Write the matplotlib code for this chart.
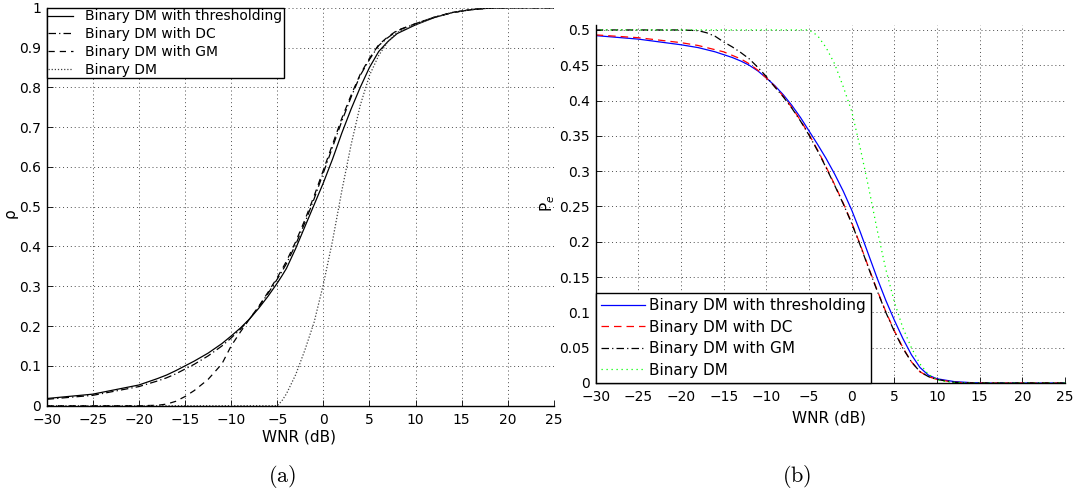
import numpy as np
import matplotlib
matplotlib.use("Agg")
import matplotlib.pyplot as plt

plt.rcParams['font.family'] = ['DejaVu Sans']
plt.rcParams['axes.unicode_minus'] = True

# --- data ---
wnr_a = [-30, -25, -20, -18, -17, -16, -15, -14, -12.5, -11, -10, -9, -8, -7, -6, -5, -4.5, -4,
         -3, -2, -1, 0, 1, 2, 3, 4, 5, 6, 7, 8, 10, 12, 14, 16, 18, 20, 25]
rho_thresh = [0.018, 0.029, 0.052, 0.068, 0.077, 0.088, 0.100, 0.112, 0.132, 0.156, 0.175, 0.195,
              0.218, 0.245, 0.275, 0.308, 0.326, 0.345, 0.395, 0.450, 0.505, 0.560, 0.620, 0.685,
              0.745, 0.800, 0.850, 0.890, 0.915, 0.935, 0.957, 0.975, 0.988, 0.995, 0.999, 1.0, 1.0]
rho_dc = [0.016, 0.026, 0.048, 0.062, 0.070, 0.080, 0.092, 0.104, 0.125, 0.150, 0.170, 0.192,
          0.218, 0.248, 0.282, 0.318, 0.337, 0.357, 0.405, 0.460, 0.520, 0.585, 0.650, 0.715,
          0.775, 0.830, 0.870, 0.905, 0.925, 0.942, 0.960, 0.976, 0.988, 0.995, 0.999, 1.0, 1.0]
rho_gm = [0.0, 0.0, 0.0, 0.001, 0.004, 0.011, 0.023, 0.038, 0.066, 0.105, 0.150, 0.185,
          0.218, 0.250, 0.285, 0.322, 0.342, 0.363, 0.412, 0.467, 0.527, 0.592, 0.657, 0.722,
          0.780, 0.833, 0.873, 0.907, 0.927, 0.943, 0.960, 0.976, 0.988, 0.995, 0.999, 1.0, 1.0]
rho_dm = [0.0, 0.0, 0.0, 0.0, 0.0, 0.0, 0.0, 0.0, 0.0, 0.0, 0.0, 0.0,
          0.0, 0.0, 0.0, 0.0, 0.012, 0.030, 0.078, 0.140, 0.210, 0.305, 0.415, 0.540,
          0.655, 0.755, 0.830, 0.880, 0.915, 0.938, 0.958, 0.975, 0.988, 0.995, 0.999, 1.0, 1.0]

wnr_b = [-30, -25, -20, -18, -17, -16, -15, -14, -13, -12, -11, -10, -9, -8, -7, -6, -5, -4,
         -3, -2, -1, 0, 1, 2, 3, 4, 5, 6, 7, 8, 9, 10, 11, 12, 14, 16, 20, 25]
pe_thresh = [0.492, 0.487, 0.479, 0.475, 0.472, 0.469, 0.465, 0.461, 0.456, 0.450, 0.442, 0.432,
             0.421, 0.408, 0.393, 0.376, 0.357, 0.338, 0.318, 0.296, 0.272, 0.245, 0.214, 0.181,
             0.148, 0.117, 0.089, 0.063, 0.040, 0.022, 0.011, 0.006, 0.004, 0.002, 0.0005, 0.0, 0.0, 0.0]
pe_dc = [0.493, 0.489, 0.482, 0.478, 0.475, 0.472, 0.469, 0.464, 0.459, 0.452, 0.443, 0.432,
         0.420, 0.406, 0.390, 0.372, 0.352, 0.330, 0.306, 0.281, 0.255, 0.227, 0.196, 0.163,
         0.131, 0.101, 0.074, 0.050, 0.030, 0.016, 0.009, 0.005, 0.003, 0.001, 0.0, 0.0, 0.0, 0.0]
pe_gm = [0.5, 0.5, 0.5, 0.499, 0.496, 0.491, 0.483, 0.476, 0.468, 0.459, 0.447, 0.434,
         0.419, 0.405, 0.389, 0.371, 0.351, 0.329, 0.305, 0.280, 0.254, 0.226, 0.195, 0.162,
         0.130, 0.100, 0.073, 0.049, 0.030, 0.016, 0.009, 0.005, 0.003, 0.001, 0.0, 0.0, 0.0, 0.0]
pe_dm = [0.5, 0.5, 0.5, 0.5, 0.5, 0.5, 0.5, 0.5, 0.5, 0.5, 0.5, 0.5,
         0.5, 0.5, 0.5, 0.5, 0.5, 0.492, 0.475, 0.452, 0.420, 0.385, 0.333, 0.276,
         0.216, 0.161, 0.115, 0.078, 0.050, 0.027, 0.012, 0.005, 0.002, 0.001, 0.0, 0.0, 0.0, 0.0]

labels = ['Binary DM with thresholding', 'Binary DM with DC', 'Binary DM with GM', 'Binary DM']

W, H = 1076, 497
fig = plt.figure(figsize=(W / 100, H / 100), dpi=100)

# axes placed in pixel terms of the reference
ax1 = fig.add_axes([46.6 / W, 1 - 405.7 / H, (554 - 46.6) / W, 398 / H])
ax2 = fig.add_axes([595.7 / W, 1 - 383 / H, (1065 - 595.7) / W, 358 / H])

grid_kw = dict(color='0.3', linestyle=(0, (1, 3)), linewidth=0.7)


def style_axes(ax):
    for s in ['top', 'right']:
        ax.spines[s].set_visible(False)
    for s in ['left', 'bottom']:
        ax.spines[s].set_linewidth(1.0)
    ax.tick_params(direction='in', length=4, width=0.6, labelsize=10)
    ax.tick_params(axis='x', pad=5)
    ax.tick_params(axis='y', pad=4)
    ax.grid(True, **grid_kw)
    ax.set_axisbelow(True)
    ax.set_xlim(-30, 25)
    ax.set_xticks(np.arange(-30, 26, 5))


# (a) correlation
lw = 0.9
ax1.plot(wnr_a, rho_thresh, color='k', linestyle='-', lw=lw, label=labels[0])
ax1.plot(wnr_a, rho_dc, color='k', linestyle=(0, (6, 2.5, 1, 2.5)), lw=lw, label=labels[1])
ax1.plot(wnr_a, rho_gm, color='k', linestyle=(0, (5, 4)), lw=lw, label=labels[2])
ax1.plot(wnr_a, rho_dm, color='0.25', linestyle=(0, (1, 1.5)), lw=lw, label=labels[3])
style_axes(ax1)
ax1.set_ylim(0, 1)
ax1.set_yticks(np.arange(0, 1.01, 0.1))
ax1.set_yticklabels(['0', '0.1', '0.2', '0.3', '0.4', '0.5', '0.6', '0.7', '0.8', '0.9', '1'])
ax1.set_xlabel('WNR (dB)', fontsize=11, va='center')
ax1.xaxis.set_label_coords(0.497, -0.078)
ax1.set_ylabel('ρ', fontsize=11, va='center')
ax1.yaxis.set_label_coords(-0.072, 0.484)
leg1 = ax1.legend(loc='upper left', bbox_to_anchor=(0, 1), borderaxespad=0, fontsize=10,
                  handlelength=1.75, handletextpad=0.9, labelspacing=0.27, borderpad=0.12,
                  fancybox=False, framealpha=1, edgecolor='k')
leg1.get_frame().set_linewidth(1.0)

# (b) error probability
ax2.plot(wnr_b, pe_thresh, color='#0000ff', linestyle='-', lw=lw, label=labels[0])
ax2.plot(wnr_b, pe_dc, color='#ff0000', linestyle=(0, (6, 4)), lw=lw, label=labels[1])
ax2.plot(wnr_b, pe_gm, color='k', linestyle=(0, (6, 2.5, 1, 2.5)), lw=lw, label=labels[2])
ax2.plot(wnr_b, pe_dm, color='#00ff00', linestyle=(0, (1, 3)), lw=lw, label=labels[3])
style_axes(ax2)
ax2.set_ylim(0, 0.507)
ax2.set_yticks(np.arange(0, 0.501, 0.05))
ax2.set_yticklabels(['0', '0.05', '0.1', '0.15', '0.2', '0.25', '0.3', '0.35', '0.4', '0.45', '0.5'])
ax2.set_xlabel('WNR (dB)', fontsize=11, va='center')
ax2.xaxis.set_label_coords(0.497, -0.098)
ax2.set_ylabel('P$_e$', fontsize=11, va='center')
ax2.yaxis.set_label_coords(-0.1016, 0.503)
leg2 = ax2.legend(loc='lower left', bbox_to_anchor=(0, 0), borderaxespad=0, fontsize=11,
                  handlelength=2.9, handletextpad=0.25, labelspacing=0.42, borderpad=0.35,
                  fancybox=False, framealpha=1, edgecolor='k')
leg2.get_frame().set_linewidth(1.0)

# panel captions
fig.text(281.7 / W, 1 - 477 / H, r'$\mathrm{(a)}$', math_fontfamily='cm', fontsize=16,
         ha='center', va='center')
fig.text(796.7 / W, 1 - 476 / H, r'$\mathrm{(b)}$', math_fontfamily='cm', fontsize=16,
         ha='center', va='center')

fig.savefig('out.png', dpi=100)
